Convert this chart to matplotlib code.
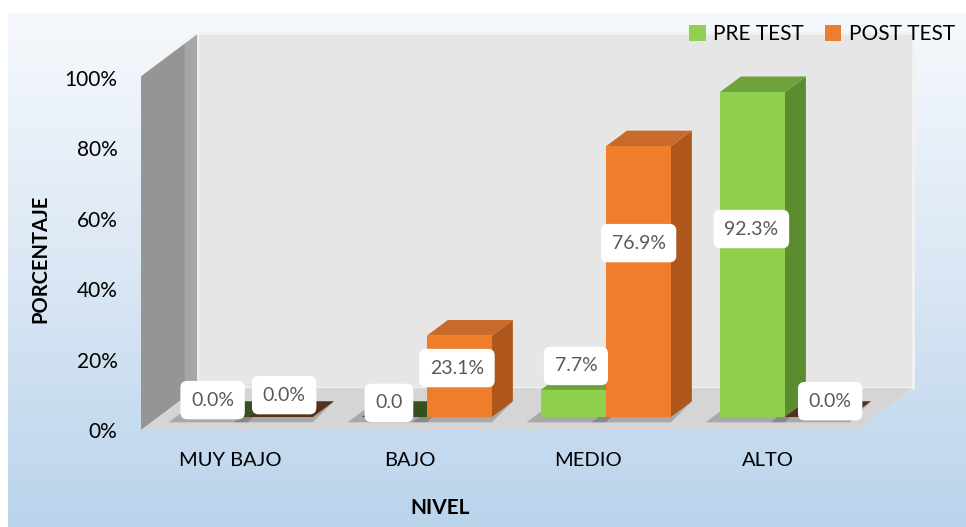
import numpy as np
import matplotlib
matplotlib.use('Agg')
import matplotlib.pyplot as plt
from matplotlib.patches import Polygon, Patch

plt.rcParams['font.family'] = ['Lato', 'DejaVu Sans']

# data
niveles = ['MUY BAJO', 'BAJO', 'MEDIO', 'ALTO']
pre_test = [0.0, 0.0, 7.7, 92.3]
post_test = [0.0, 23.1, 76.9, 0.0]
pre_labels = ['0.0%', '0.0', '7.7%', '92.3%']
post_labels = ['0.0%', '23.1%', '76.9%', '0.0%']
y_ticks = [0, 20, 40, 60, 80, 100]

# label anchor points (x in category units, y in %) - layout only
pre_label_pos = [(-0.10, 8.5), (0.885, 7.7), (1.93, 18.2), (2.91, 57.1)]
post_label_pos = [(0.30, 9.9), (1.265, 17.6), (2.28, 53.1), (3.35, 8.2)]

# colours
PRE = dict(front='#8fd14f', side='#5c8c30', top='#6ea23a', flat='#34501f')
POST = dict(front='#ef7d2c', side='#ae561c', top='#c9692a', flat='#55301a')

# 3d geometry (data units)
DX, DY = 0.313, 11.9        # full depth of the box
D0, DD = 0.31, 0.375        # bar depth start / thickness as fraction of full depth
BW = 0.363                  # bar width
WALL_H = 101

fig = plt.figure(figsize=(9.66, 5.27), dpi=100)

# background gradient
bg = fig.add_axes([0, 0, 1, 1])
bg.set_xlim(0, 966)
bg.set_ylim(527, 0)
bg.axis('off')
grad = np.linspace(0, 1, 256).reshape(-1, 1)
cmap = matplotlib.colors.LinearSegmentedColormap.from_list('bg', ['#f6f9fd', '#dbe7f4', '#bad4ec'])
bg.imshow(grad, extent=(8, 966, 527, 13), aspect='auto', cmap=cmap, zorder=0)

ax = fig.add_axes([141 / 966, (527 - 430) / 527, (857 - 141) / 966, (430 - 33) / 527])
ax.set_facecolor('none')
ax.set_xlim(-0.5, 3.5)
ax.set_ylim(0, 112.8)
for s in ax.spines.values():
    s.set_visible(False)

x0, x1 = -0.5, len(niveles) - 0.5

# back wall
ax.add_patch(Polygon([(x0 + DX, DY), (x1 + DX, DY), (x1 + DX, WALL_H + DY), (x0 + DX, WALL_H + DY)],
                     closed=True, fc='#e6e6e6', ec='#f2f2f2', lw=2, clip_on=False, zorder=1))
# left wall
ax.add_patch(Polygon([(x0, 0), (x0 + DX, DY), (x0 + DX, WALL_H + DY), (x0, WALL_H)],
                     closed=True, fc='#959595', ec='none', clip_on=False, zorder=2))
ax.add_patch(Polygon([(x0 + DX * 0.78, DY * 0.78), (x0 + DX, DY), (x0 + DX, WALL_H + DY), (x0 + DX * 0.78, WALL_H + DY * 0.78)],
                     closed=True, fc='#a6a6a6', ec='none', clip_on=False, zorder=2))
ax.plot([x0, x0 + DX], [WALL_H, WALL_H + DY], color='#f4f4f4', lw=2, clip_on=False, zorder=2)
# floor
ax.add_patch(Polygon([(x0, 0), (x1, 0), (x1 + DX, DY), (x0 + DX, DY)],
                     closed=True, fc='#d5d5d5', ec='none', clip_on=False, zorder=2))


def bar3d(xl, v, c):
    bx = xl + D0 * DX
    by = D0 * DY
    ddx, ddy = DD * DX, DD * DY
    xr = bx + BW
    # soft shadow on floor
    ax.add_patch(Polygon([(bx - 0.08, by - 1.5), (xr, by - 1.5), (xr + ddx, by + ddy), (bx + ddx - 0.04, by + ddy)],
                         closed=True, fc='#404040', ec='none', alpha=0.3, clip_on=False, zorder=3))
    top = by + v
    top_col = c['top'] if v > 0 else c['flat']
    ax.add_patch(Polygon([(xr, by), (xr + ddx, by + ddy), (xr + ddx, top + ddy), (xr, top)],
                         closed=True, fc=c['side'], ec='none', clip_on=False, zorder=4))
    ax.add_patch(Polygon([(bx, top), (xr, top), (xr + ddx, top + ddy), (bx + ddx, top + ddy)],
                         closed=True, fc=top_col, ec='none', clip_on=False, zorder=4))
    if v > 0:
        ax.add_patch(Polygon([(bx, by), (xr, by), (xr, top), (bx, top)],
                             closed=True, fc=c['front'], ec='none', clip_on=False, zorder=5))


for i in range(len(niveles)):
    bar3d(i - BW, pre_test[i], PRE)
    bar3d(i, post_test[i], POST)

box = dict(boxstyle='round,pad=0.55,rounding_size=0.35', fc='white', ec='none')
for lab, (px, py) in zip(pre_labels, pre_label_pos):
    ax.text(px, py, lab, ha='center', va='center', fontsize=14, color='#595959', bbox=box, zorder=6)
for lab, (px, py) in zip(post_labels, post_label_pos):
    ax.text(px, py, lab, ha='center', va='center', fontsize=14, color='#595959', bbox=box, zorder=6)

ax.set_xticks(range(len(niveles)))
ax.set_xticklabels(niveles, fontsize=14.5)
ax.set_yticks(y_ticks)
ax.set_yticklabels([f'{t}%' for t in y_ticks], fontsize=15)
ax.tick_params(axis='x', length=0, pad=16)
ax.tick_params(axis='y', length=0, pad=17)

fig.text(40 / 966, 1 - 259 / 527, 'PORCENTAJE', rotation=90, ha='center', va='center',
         fontsize=14.5, fontweight='bold')
fig.text(440 / 966, 1 - 508 / 527, 'NIVEL', ha='center', va='center', fontsize=15, fontweight='bold')

handles = [Patch(fc='#92d050', ec='none', label='PRE TEST'), Patch(fc='#ed7d31', ec='none', label='POST TEST')]
fig.legend(handles=handles, loc='center right', bbox_to_anchor=(963 / 966, 1 - 34 / 527), ncol=2,
           frameon=False, fontsize=15, handlelength=0.8, handleheight=0.8, handletextpad=0.35,
           columnspacing=1.0, borderaxespad=0)

fig.savefig('out.png', dpi=100)
